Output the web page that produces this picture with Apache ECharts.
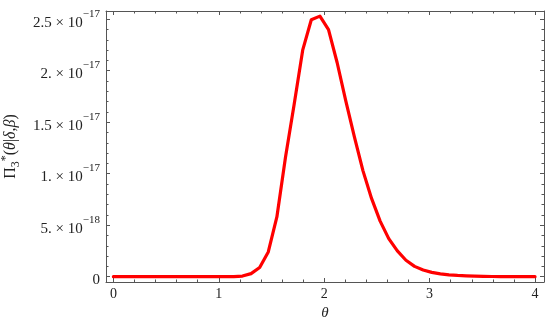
<!DOCTYPE html>
<html>
<head>
<meta charset="utf-8">
<script src="https://cdn.jsdelivr.net/npm/echarts@6/dist/echarts.min.js"></script>
<style>html,body{margin:0;padding:0;background:#fff}#c{width:550px;height:327px}</style>
</head>
<body>
<div id="c"></div>
<script>
// theta grid (read from the vertices of the polyline)
const theta = [0, 0.0816, 0.1633, 0.2449, 0.3265, 0.4082, 0.4898, 0.5714, 0.6531, 0.7347,
  0.8163, 0.8980, 0.9796, 1.0612, 1.1429, 1.2245, 1.3061, 1.3878, 1.4694, 1.5510,
  1.6327, 1.7143, 1.7959, 1.8776, 1.9592, 2.0408, 2.1224, 2.2041, 2.2857, 2.3673,
  2.4490, 2.5306, 2.6122, 2.6939, 2.7755, 2.8571, 2.9388, 3.0204, 3.1020, 3.1837,
  3.2653, 3.3469, 3.4286, 3.5102, 3.5918, 3.6735, 3.7551, 3.8367, 3.9184, 4.0];
// Pi3*(theta|delta,beta)
const pi3 = [0, 0, 0, 0, 0, 0, 0, 0, 0, 0,
  0, 0, 0, 0, 0.01e-18, 0.06e-18, 0.3e-18, 0.9e-18, 2.4e-18, 5.8e-18,
  11.6e-18, 16.7e-18, 22.0e-18, 24.95e-18, 25.3e-18, 24.0e-18, 20.8e-18, 17.1e-18, 13.6e-18, 10.3e-18,
  7.6e-18, 5.4e-18, 3.7e-18, 2.5e-18, 1.6e-18, 1.0e-18, 0.65e-18, 0.42e-18, 0.28e-18, 0.18e-18,
  0.12e-18, 0.08e-18, 0.05e-18, 0.03e-18, 0.02e-18, 0.01e-18, 0.005e-18, 0, 0, 0];

const xTicks = [0, 1, 2, 3, 4];
const xTickLabels = ['0', '1', '2', '3', '4'];
const xMinor = [0.2, 0.4, 0.6, 0.8, 1.2, 1.4, 1.6, 1.8, 2.2, 2.4, 2.6, 2.8, 3.2, 3.4, 3.6, 3.8];
const yTicks = [0, 5e-18, 1e-17, 1.5e-17, 2e-17, 2.5e-17];
const yTickMant = ['0', '5.', '1.', '1.5', '2.', '2.5'];
const yTickExp = ['', '−18', '−17', '−17', '−17', '−17'];
const yMinor = [1e-18, 2e-18, 3e-18, 4e-18, 6e-18, 7e-18, 8e-18, 9e-18,
  11e-18, 12e-18, 13e-18, 14e-18, 16e-18, 17e-18, 18e-18, 19e-18,
  21e-18, 22e-18, 23e-18, 24e-18];

const X_MIN = -0.07, X_MAX = 4.085, Y_MIN = -0.515e-18, Y_MAX = 25.8e-18;
const FRAME = '#555';
const FONT = 'Liberation Serif';
const TXT = '#222';

function nearestIdx(arr, v) {
  let b = 0;
  for (let i = 1; i < arr.length; i++) if (Math.abs(arr[i] - v) < Math.abs(arr[b] - v)) b = i;
  return b;
}

function xAxisDef(pos, major, showLabel, showLine) {
  return {
    type: 'value', position: pos, min: X_MIN, max: X_MAX,
    axisLine: { show: showLine, onZero: false, lineStyle: { color: FRAME, width: 1 } },
    axisTick: { show: true, inside: true, length: major ? 4 : 2.5, customValues: major ? xTicks : xMinor,
      lineStyle: { color: FRAME, width: 1 } },
    axisLabel: showLabel ? {
      show: true, customValues: xTicks, margin: 5, color: TXT, fontFamily: FONT, fontSize: 14,
      formatter: v => xTickLabels[nearestIdx(xTicks, v)]
    } : { show: false },
    splitLine: { show: false },
    name: showLabel ? 'θ' : '', nameLocation: 'middle', nameGap: 16,
    nameTextStyle: { fontFamily: FONT, fontStyle: 'italic', fontSize: 15, color: TXT }
  };
}

function yAxisDef(pos, major, showLabel, showLine) {
  return {
    type: 'value', position: pos, min: Y_MIN, max: Y_MAX,
    axisLine: { show: showLine, onZero: false, lineStyle: { color: FRAME, width: 1 } },
    axisTick: { show: true, inside: true, length: major ? 4 : 2.5, customValues: major ? yTicks : yMinor,
      lineStyle: { color: FRAME, width: 1 } },
    axisLabel: showLabel ? {
      show: true, customValues: yTicks, margin: 6, color: TXT, fontFamily: FONT, fontSize: 15,
      formatter: v => {
        const i = nearestIdx(yTicks, v);
        if (!yTickExp[i]) return '{m|' + yTickMant[i] + '}';
        return '{m|' + yTickMant[i] + ' × 10}{s|' + yTickExp[i] + '}';
      },
      rich: {
        m: { fontFamily: FONT, fontSize: 15, color: TXT, lineHeight: 22, verticalAlign: 'bottom' },
        s: { fontFamily: FONT, fontSize: 11, color: TXT, lineHeight: 22, verticalAlign: 'top' }
      }
    } : { show: false },
    splitLine: { show: false },
    name: showLabel ? '{n|Π}{sb|3}{sp|*}{n|(}{i|θ}{n||}{i|δ}{n|,}{i|β}{n|)}' : '',
    nameLocation: 'middle', nameGap: 82, nameRotate: 90,
    nameTextStyle: {
      rich: {
        n: { fontFamily: FONT, fontSize: 16, color: TXT, lineHeight: 22 },
        i: { fontFamily: FONT, fontSize: 16, fontStyle: 'italic', color: TXT, lineHeight: 22 },
        sb: { fontFamily: FONT, fontSize: 12, color: TXT, lineHeight: 22, verticalAlign: 'bottom' },
        sp: { fontFamily: FONT, fontSize: 12, color: TXT, lineHeight: 22, verticalAlign: 'top' }
      }
    }
  };
}

const chart = echarts.init(document.getElementById('c'), null, { renderer: 'canvas' });
chart.setOption({
  animation: false,
  backgroundColor: '#fff',
  grid: { left: 106, right: 6, top: 11, bottom: 45, containLabel: false, outerBoundsMode: 'none' },
  xAxis: [
    xAxisDef('bottom', true, true, true),
    xAxisDef('bottom', false, false, false),
    xAxisDef('top', true, false, true),
    xAxisDef('top', false, false, false)
  ],
  yAxis: [
    yAxisDef('left', true, true, true),
    yAxisDef('left', false, false, false),
    yAxisDef('right', true, false, true),
    yAxisDef('right', false, false, false)
  ],
  series: [{
    type: 'line', xAxisIndex: 0, yAxisIndex: 0,
    data: theta.map((t, i) => [t, pi3[i]]),
    showSymbol: false, smooth: false,
    lineStyle: { color: '#ff0000', width: 3.2, join: 'round', cap: 'round' }
  }]
});
</script>
</body>
</html>
